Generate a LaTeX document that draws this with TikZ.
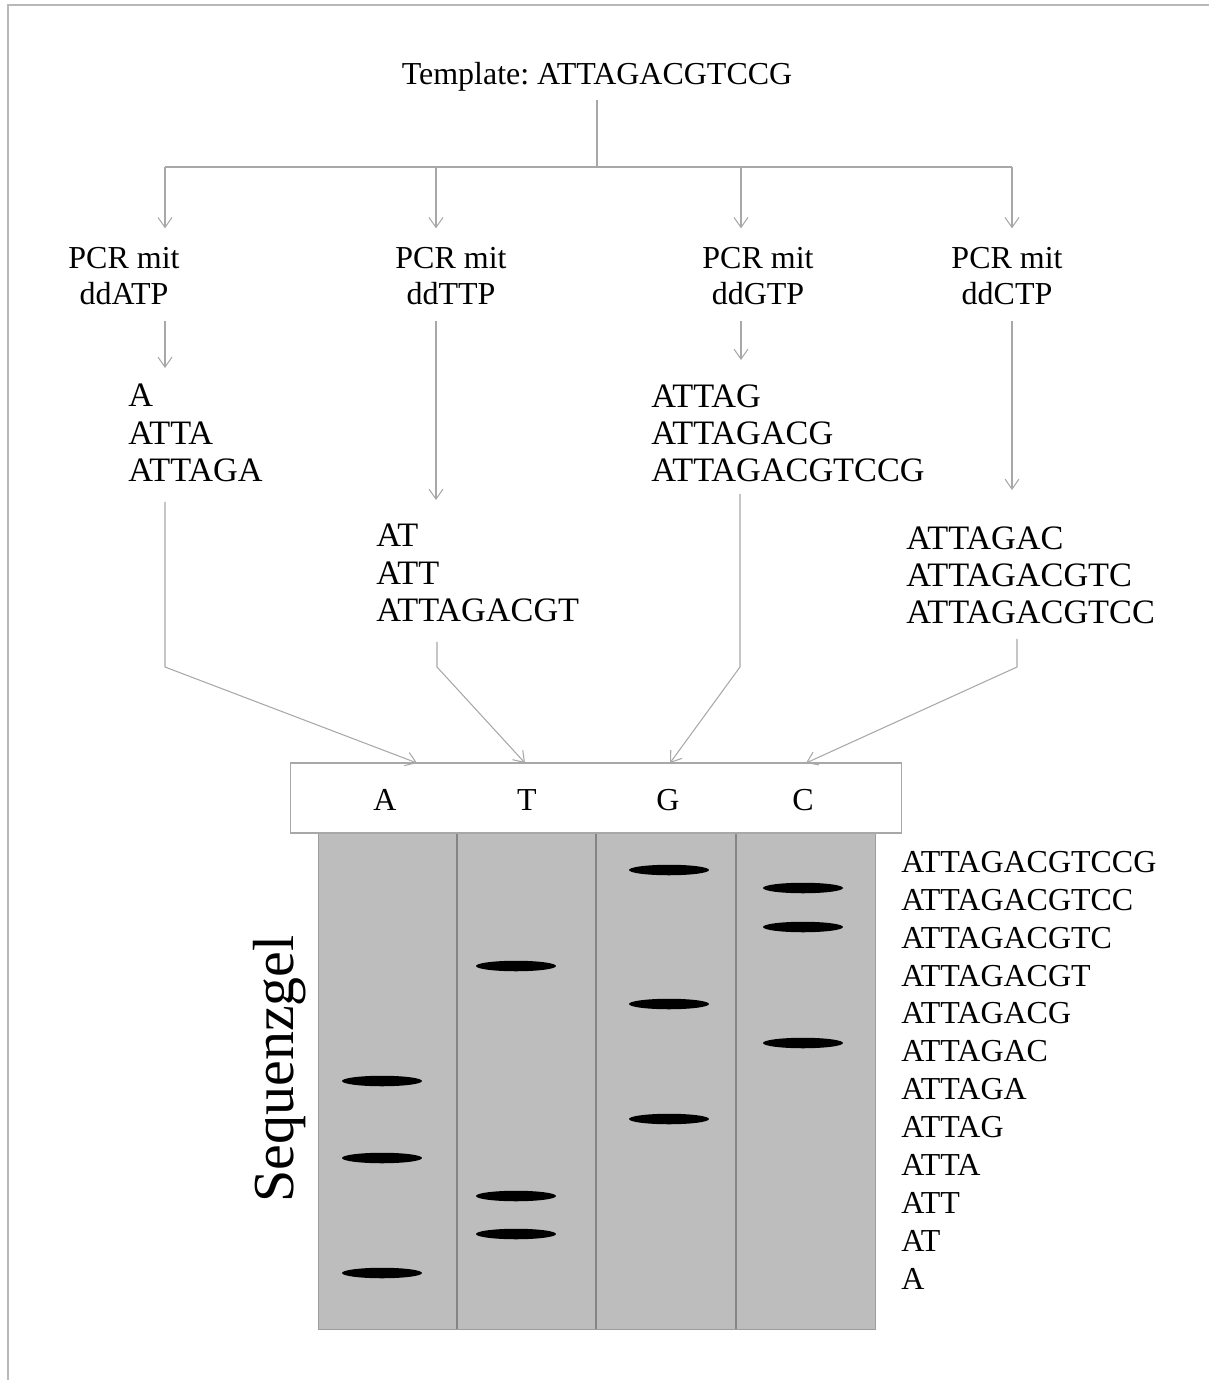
\documentclass[tikz,border=0pt]{standalone}
\usepackage{fontspec}
\setmainfont{Liberation Serif}
\usetikzlibrary{arrows.meta, shapes.geometric}
\frenchspacing

\definecolor{linegray}{HTML}{A8A8A8}
\definecolor{framegray}{HTML}{B8B8B8}
\definecolor{gelgray}{HTML}{BDBDBD}
\definecolor{lanegray}{HTML}{858585}

\begin{document}
\begin{tikzpicture}[
  x=0.02cm, y=-0.02cm,
  every node/.style={font=\fontsize{18.2}{20}\selectfont},
  lbl/.style={align=center, inner sep=0pt},
  seq/.style={align=left, inner sep=0pt, anchor=north west,
              font=\fontsize{19.5}{21.1}\selectfont},
  conn/.style={draw=linegray, line width=0.6pt},
  arr/.style={conn, -{Straight Barb[length=2mm, width=2.8mm]}},
  band/.style={ellipse, fill=black, inner sep=0pt,
               minimum width=1.6cm, minimum height=0.21cm}
]
\useasboundingbox (0,0) rectangle (1209,1380);
\draw[framegray, line width=1.1pt] (8,1380) -- (8,5) -- (1209,5);

% template and split
\node[lbl] (tmpl) at (597,77) {Template: ATTAGACGTCCG};
\coordinate (bus) at (597,167);
\coordinate (busA) at (165,167);
\coordinate (busT) at (436,167);
\coordinate (busG) at (741,167);
\coordinate (busC) at (1012,167);
\draw[conn] ([yshift=-0.16cm]tmpl.south) -- (bus);
\draw[conn] (busA) -- (busC);

% PCR reactions
\node[lbl] (pcrA) at (124,276) {PCR mit\\ddATP};
\node[lbl] (pcrT) at (451,276) {PCR mit\\ddTTP};
\node[lbl] (pcrG) at (758,276) {PCR mit\\ddGTP};
\node[lbl] (pcrC) at (1007,276) {PCR mit\\ddCTP};
\foreach \c in {A, T, G, C}
  \draw[arr, shorten >=0.38cm] (bus\c) -- (bus\c |- pcr\c.north);

% fragments
\node[seq] (frA) at (128,384) {A\\ATTA\\ATTAGA};
\node[seq] (frT) at (376,524) {AT\\ATT\\ATTAGACGT};
\node[seq] (frG) at (651,384) {ATTAG\\ATTAGACG\\ATTAGACGTCCG};
\node[seq] (frC) at (906,526) {ATTAGAC\\ATTAGACGTC\\ATTAGACGTCC};
\foreach \c/\s in {A/0.32cm, T/0.48cm, G/0.48cm, C/0.72cm}
  \draw[arr, shorten <=0.32cm, shorten >=\s] (bus\c |- pcr\c.south) -- (bus\c |- fr\c.north);

% gel
\node[fill=gelgray, draw=lanegray!80, minimum width=11.14cm,
      minimum height=9.92cm, inner sep=0pt] (gel) at (596.5,1081) {};
\foreach \x in {457, 596, 736}
  \draw[lanegray, line width=0.6pt] (gel.north -| \x,0) -- (gel.south -| \x,0);
\node[draw=linegray, fill=white, line width=0.6pt, minimum width=12.24cm,
      minimum height=1.4cm, inner sep=0pt] (head) at (596,798) {};
\node (hA) at (385,800) {A};
\node (hT) at (527,800) {T};
\node (hG) at (668,800) {G};
\node (hC) at (803,800) {C};

% fragments into lanes
\coordinate (bendA) at (165,667);
\coordinate (bendT) at (437,667);
\coordinate (bendG) at (740,667);
\coordinate (bendC) at (1017,667);
\coordinate (inA) at (417,763);
\coordinate (inT) at (525,763);
\coordinate (inG) at (670,763);
\coordinate (inC) at (806,763);
\foreach \c/\s in {A/0.4cm, T/0.4cm, G/0.24cm, C/0.3cm}
  \draw[arr, shorten <=\s] (bend\c |- fr\c.south) -- (bend\c) -- (in\c);

% bands
\foreach \n/\x/\y in {A1/382/1081, A2/382/1158, A3/382/1273,
                      T1/516/966, T2/516/1196, T3/516/1234,
                      G1/669/870, G2/669/1004, G3/669/1119,
                      C1/803/888, C2/803/927, C3/803/1043}
  \node[band] (b\n) at (\x,\y) {};

% fragment lengths
\foreach \s [count=\i] in {ATTAGACGTCCG, ATTAGACGTCC, ATTAGACGTC, ATTAGACGT,
                           ATTAGACG, ATTAGAC, ATTAGA, ATTAG, ATTA, ATT, AT, A}
  \node[anchor=west, inner sep=0pt] (len\i) at (901,{824+37.9*\i}) {\s};

\node[rotate=90, inner sep=0pt, font=\fontsize{33}{36}\selectfont] (gellbl)
  at (280,1069) {Sequenzgel};
\end{tikzpicture}
\end{document}
